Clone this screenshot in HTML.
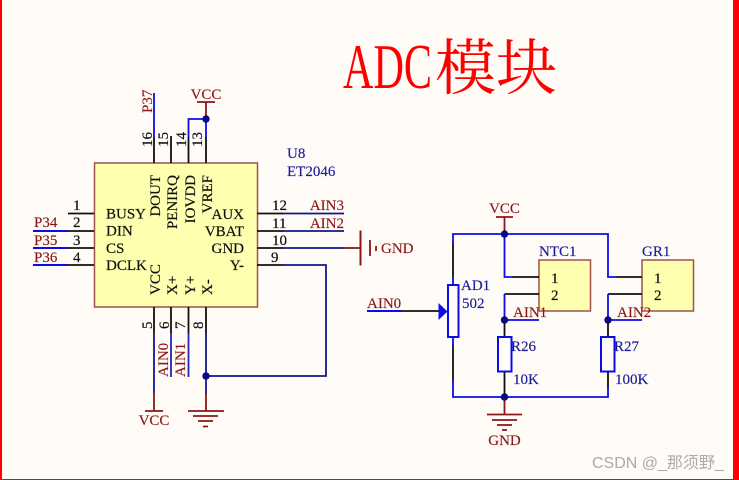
<!DOCTYPE html>
<html><head><meta charset="utf-8"><style>
html,body{margin:0;padding:0;background:#fffcf8}
svg{display:block}
text{font-family:"Liberation Serif","Noto Serif CJK SC",serif;font-size:15px}
.k{fill:#101010;stroke:#101010;stroke-width:.2}.r{fill:#8c1616;stroke:#8c1616;stroke-width:.15}.b{fill:#1a1a9a;stroke:#1a1a9a;stroke-width:.15}
</style></head><body>
<svg width="739" height="480" viewBox="0 0 739 480" xmlns="http://www.w3.org/2000/svg">
<rect width="739" height="480" fill="#fffcf8"/>
<rect x="0" y="0" width="2" height="480" fill="#ff0000"/>
<rect x="733" y="0" width="6" height="480" fill="#ff0000"/>
<rect x="0" y="479" width="739" height="1" fill="#ff0000"/>

<text x="343" y="88" style="font-size:64px" fill="#ff0000" textLength="89" lengthAdjust="spacingAndGlyphs">ADC</text>
<text x="435" y="89" style="font-size:61px;font-family:'Noto Serif CJK SC',serif" fill="#ff0000">模块</text>

<!-- chip -->
<rect x="94.5" y="163" width="163" height="144" fill="#ffffb0" stroke="#a0504a" stroke-width="1.5"/>
<rect x="539" y="260" width="51.5" height="51" fill="#ffffb0" stroke="#a0504a" stroke-width="1.5"/>
<rect x="642" y="260" width="51.5" height="51" fill="#ffffb0" stroke="#a0504a" stroke-width="1.5"/>

<g fill="none" stroke-width="1.8">
<!-- black pins -->
<g stroke="#101010">
<path d="M154 137V163M171 136V163M188.5 137V163M206 137V163"/>
<path d="M68 213.5H94M68 231H94M68 248H94M68 265H94"/>
<path d="M257 213.5H283M257 231H283M257 248H283M257 265H283"/>
<path d="M154 307V333M171 307V333M188.5 307V333M206 307V333"/>
<path d="M453 243V277M453 345V380"/>
<path d="M402 311H440"/>
<path d="M512 277H539M504.5 294H539M616 277H642M608 294H642"/>
<path d="M504.5 320V337M504.5 371V397M608 320V337M608 371V388"/>
</g>
<!-- bright blue -->
<g stroke="#0c0ce8">
<path d="M154 93V137M188.5 137V119H206V137"/>
<path d="M33 231H68M33 248H68M33 265H68" stroke-width="2"/>
<path d="M453 243V234H608V277H616M504.5 234V277H512"/>
<path d="M504.5 294V320H539M608 294V320H642M453 345V337M453 380V397H608V388"/>
<path d="M367 311H402" stroke-width="2"/>
<rect x="448" y="285" width="10.5" height="52" stroke-width="2"/>
<rect x="498" y="337" width="13.5" height="34.5" stroke-width="2"/>
<rect x="601" y="337" width="13.5" height="34.5" stroke-width="2"/>
<path d="M453 277V285"/>
</g>
<!-- navy -->
<g stroke="#14148c">
<path d="M283 213.5H344M283 231H344M283 248H344M283 265H326V376H206"/>
<path d="M154 333V393M206 333V394"/>
<path d="M171 333V377M188.5 333V377" stroke="#2525b0"/>
</g>
<!-- dark red -->
<g stroke="#8c1616">
<path d="M206 119V102M197 102H215"/>
<path d="M344 248H360"/>
<path d="M360.5 230.5V265.5" stroke-width="2"/><path d="M370 240V256" stroke-width="1.8"/><path d="M376 246V251" stroke-width="1.8"/>
<path d="M154 393V411M145 411H163"/>
<path d="M206 394V411M188 411H224M193 416H218M198 421H213M203 426.5H208"/>
<path d="M504.5 234V217M496 217H513"/>
<path d="M504.5 397V414.5M487 414.5H522M492 420H517M497 425H512M502 430H507"/>
</g>
</g>
<path d="M438.5 303L447.5 311.5L438.5 320Z" fill="#0c0ce8"/>
<g fill="#0a0a80">
<circle cx="206" cy="119" r="3.7"/><circle cx="206" cy="376" r="3.7"/>
<circle cx="504.5" cy="234" r="3.7"/><circle cx="504.5" cy="320" r="3.7"/>
<circle cx="608" cy="320" r="3.7"/><circle cx="504.5" cy="397" r="3.7"/>
</g>

<text class="k" x="106" y="218.5">BUSY</text>
<text class="k" x="106" y="235.5">DIN</text>
<text class="k" x="106" y="253">CS</text>
<text class="k" x="106" y="270">DCLK</text>
<text class="k" x="244" y="219" text-anchor="end">AUX</text>
<text class="k" x="244" y="236" text-anchor="end">VBAT</text>
<text class="k" x="244" y="253" text-anchor="end">GND</text>
<text class="k" x="244" y="270" text-anchor="end">Y-</text>
<text class="k" x="73" y="210">1</text>
<text class="k" x="73" y="227">2</text>
<text class="k" x="73" y="245">3</text>
<text class="k" x="73" y="262">4</text>
<text class="k" x="272" y="210">12</text>
<text class="k" x="272" y="228">11</text>
<text class="k" x="272" y="245">10</text>
<text class="k" x="271" y="262">9</text>
<!-- rotated -->
<text class="k" transform="translate(160,175) rotate(-90)" text-anchor="end">DOUT</text>
<text class="k" transform="translate(177,175) rotate(-90)" text-anchor="end">PENIRQ</text>
<text class="k" transform="translate(195,175) rotate(-90)" text-anchor="end">IOVDD</text>
<text class="k" transform="translate(212,175) rotate(-90)" text-anchor="end">VREF</text>
<text class="k" transform="translate(160,295) rotate(-90)">VCC</text>
<text class="k" transform="translate(177,295) rotate(-90)">X+</text>
<text class="k" transform="translate(195,295) rotate(-90)">Y+</text>
<text class="k" transform="translate(212,295) rotate(-90)">X-</text>
<text class="k" transform="translate(152,147) rotate(-90)">16</text>
<text class="k" transform="translate(168,147) rotate(-90)">15</text>
<text class="k" transform="translate(186,147) rotate(-90)">14</text>
<text class="k" transform="translate(202,147) rotate(-90)">13</text>
<text class="k" transform="translate(152,329) rotate(-90)">5</text>
<text class="k" transform="translate(169,329) rotate(-90)">6</text>
<text class="k" transform="translate(185,329) rotate(-90)">7</text>
<text class="k" transform="translate(203,329) rotate(-90)">8</text>

<!-- net labels -->
<text class="r" transform="translate(152,113) rotate(-90)">P37</text>
<text class="r" x="206" y="99" text-anchor="middle">VCC</text>
<text class="r" x="34" y="227">P34</text>
<text class="r" x="34" y="245">P35</text>
<text class="r" x="34" y="262">P36</text>
<text class="r" x="344" y="210" text-anchor="end">AIN3</text>
<text class="r" x="344" y="228" text-anchor="end">AIN2</text>
<text class="r" x="381" y="253">GND</text>
<text class="r" transform="translate(168,377) rotate(-90)">AIN0</text>
<text class="r" transform="translate(185,377) rotate(-90)">AIN1</text>
<text class="r" x="154" y="425" text-anchor="middle">VCC</text>
<text class="r" x="504.5" y="213" text-anchor="middle">VCC</text>
<text class="r" x="367" y="308">AIN0</text>
<text class="r" x="513" y="317">AIN1</text>
<text class="r" x="617" y="317">AIN2</text>
<text class="r" x="504.5" y="445" text-anchor="middle">GND</text>

<!-- designators -->
<text class="b" x="287" y="158">U8</text>
<text class="b" x="287" y="176">ET2046</text>
<text class="b" x="461" y="290">AD1</text>
<text class="b" x="462" y="308">502</text>
<text class="b" x="539" y="256">NTC1</text>
<text class="b" x="642" y="256">GR1</text>
<text class="b" x="511" y="351">R26</text>
<text class="b" x="513" y="384">10K</text>
<text class="b" x="614" y="351">R27</text>
<text class="b" x="615" y="384">100K</text>
<text class="k" x="551" y="283">1</text>
<text class="k" x="551" y="300">2</text>
<text class="k" x="654" y="283">1</text>
<text class="k" x="654" y="300">2</text>

<text x="592" y="468" style="font-size:16px;font-family:'Liberation Sans','Noto Sans CJK SC',sans-serif" fill="#ababab">CSDN @_那须野_</text>
</svg>
</body></html>
